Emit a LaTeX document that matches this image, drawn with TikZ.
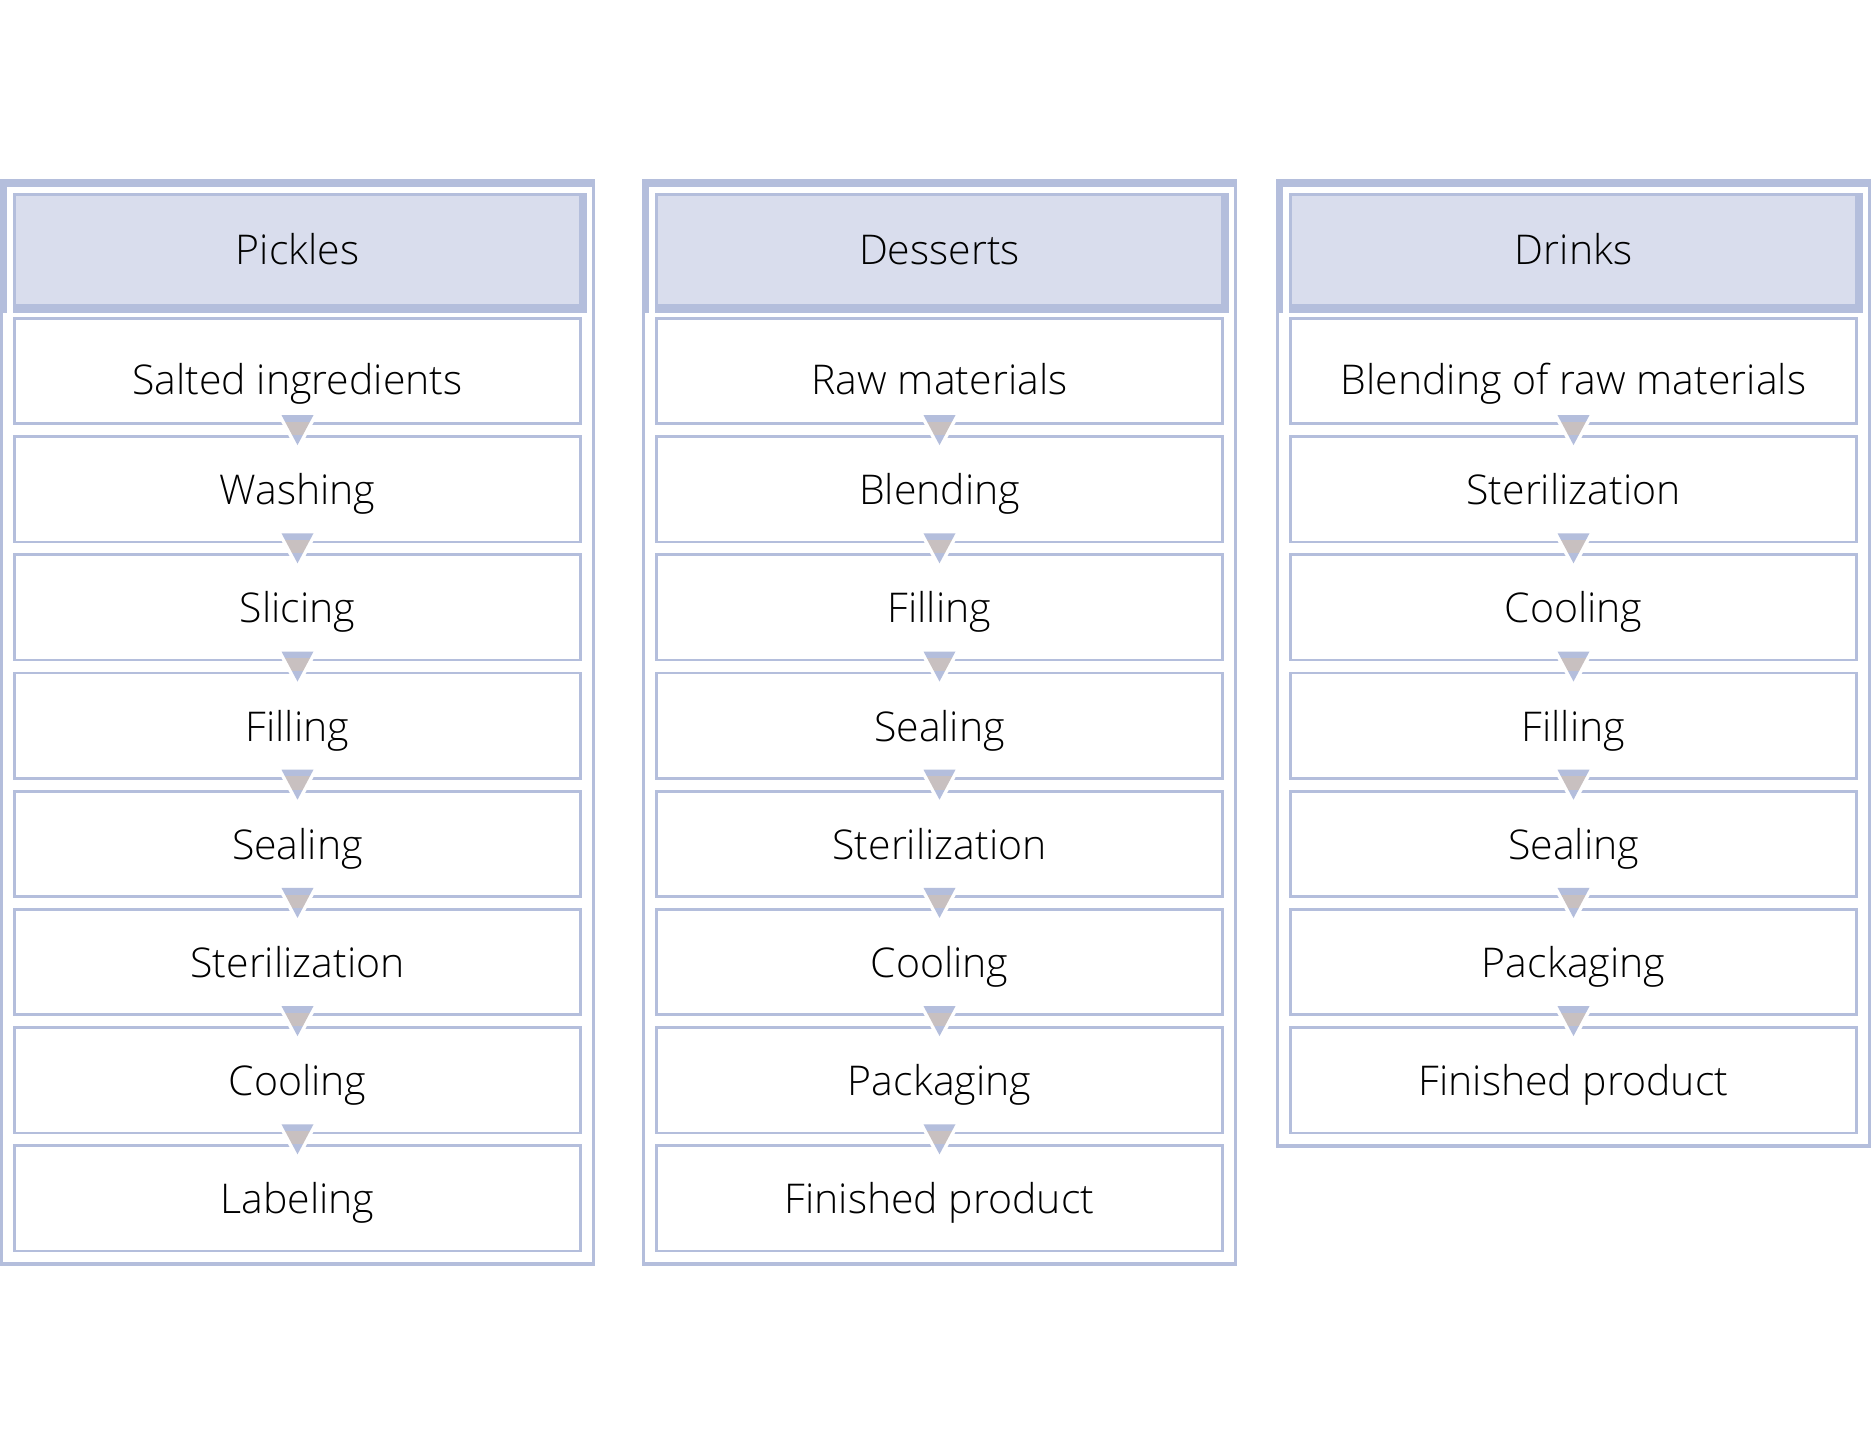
\documentclass[tikz,border=0pt]{standalone}
\usepackage{fontspec}
\setmainfont{Open Sans Light}
\usetikzlibrary{calc}
\definecolor{lineblue}{RGB}{180,190,220}
\definecolor{headfill}{RGB}{217,221,237}
\definecolor{arrgray}{RGB}{200,192,192}
\tikzset{
  stepbox/.style={draw=lineblue, line width=2.7pt, minimum width=566.3pt, minimum height=105.3pt, inner sep=0pt, outer sep=0pt},
  headbox/.style={fill=headfill, minimum width=563pt, minimum height=108pt, inner sep=0pt, outer sep=0pt},
  steptext/.style={anchor=base, font=\fontsize{41}{49}\selectfont, inner sep=0pt, text=black},
  band/.style={fill=lineblue},
}
\newcommand\flowcol[5]{%
  % #1 left x, #2 id, #3 header, #4 steps, #5 number of steps
  \pgfmathsetmacro\colB{317+118.2*(#5-1)+108+14}
  % outer frame
  \fill[band] (#1,179) rectangle ({#1+595},187);
  \fill[band] (#1,179) rectangle ({#1+7},313);
  \fill[band] (#1,179) rectangle ({#1+3},\colB);
  \fill[band] ({#1+592},179) rectangle ({#1+595},\colB);
  \fill[band] (#1,{\colB-4}) rectangle ({#1+595},\colB);
  % header
  \fill[band] ({#1+13},193) rectangle ({#1+587},313);
  \node[headbox] (#2-head) at ({#1+297.5},250) {};
  \node[steptext] (#2-headtext) at ([yshift=-14pt]#2-head.center) {#3};
  % steps
  \foreach \t [count=\i from 0] in {#4} {
    \pgfmathsetmacro\bsh{\i==0 ? -23 : -15.5}
    \node[stepbox] (#2-s\i) at ({#1+297.5},{371+118.2*\i}) {};
    \node[steptext] (#2-t\i) at ([yshift=\bsh pt]#2-s\i.center) {\t};
  }
  % arrows between steps
  \pgfmathtruncatemacro\nm{#5-2}
  \foreach \i in {0,...,\nm} {
    \pgfmathtruncatemacro\j{\i+1}
    \coordinate (#2-m\i) at ($(#2-s\i.south)!0.5!(#2-s\j.north)$);
    \draw[white, line width=7pt, line join=round]
      ([shift={(-16pt,15pt)}]#2-m\i) -- ([shift={(16pt,15pt)}]#2-m\i) -- ([shift={(0pt,-15pt)}]#2-m\i) -- cycle;
    \begin{scope}
      \clip ([shift={(-16pt,15pt)}]#2-m\i) -- ([shift={(16pt,15pt)}]#2-m\i) -- ([shift={(0pt,-15pt)}]#2-m\i) -- cycle;
      \fill[lineblue] ([shift={(-20pt,16pt)}]#2-m\i) rectangle ([shift={(20pt,8.4pt)}]#2-m\i);
      \fill[arrgray] ([shift={(-20pt,8.4pt)}]#2-m\i) rectangle ([shift={(20pt,-4.9pt)}]#2-m\i);
      \fill[lineblue] ([shift={(-20pt,-4.9pt)}]#2-m\i) rectangle ([shift={(20pt,-16pt)}]#2-m\i);
    \end{scope}
  }
}
\begin{document}
\begin{tikzpicture}[x=1pt, y=-1pt]
  \useasboundingbox[fill=white] (0,0) rectangle (1871,1445);
  \flowcol{0}{pk}{Pickles}{Salted ingredients,Washing,Slicing,Filling,Sealing,Sterilization,Cooling,Labeling}{8}
  \flowcol{642}{ds}{Desserts}{Raw materials,Blending,Filling,Sealing,Sterilization,Cooling,Packaging,Finished product}{8}
  \flowcol{1276}{dr}{Drinks}{Blending of raw materials,Sterilization,Cooling,Filling,Sealing,Packaging,Finished product}{7}
\end{tikzpicture}
\end{document}
